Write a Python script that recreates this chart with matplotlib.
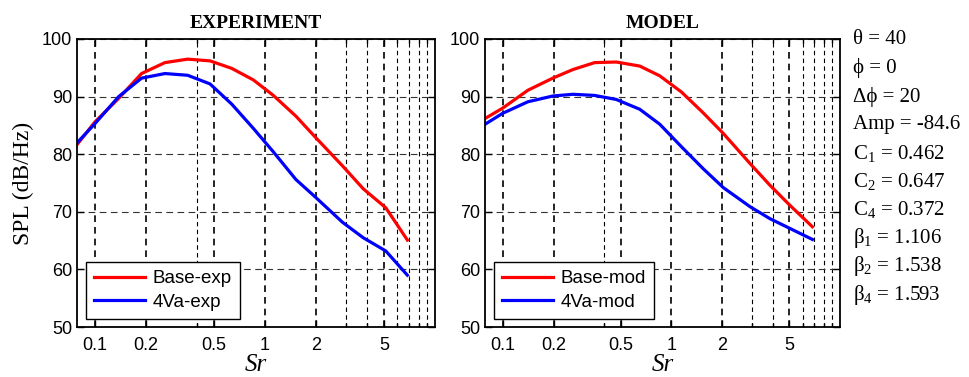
import matplotlib
matplotlib.use("Agg")
import matplotlib.pyplot as plt
from matplotlib.ticker import FixedLocator, FixedFormatter, NullFormatter

plt.rcParams['font.family'] = ['Liberation Serif', 'DejaVu Serif']
plt.rcParams['mathtext.fontset'] = 'custom'
plt.rcParams['mathtext.rm'] = 'Liberation Serif'
plt.rcParams['mathtext.it'] = 'Liberation Serif:italic'

# Strouhal numbers (1/3-octave bands) and spectra
sr_exp = [0.0787, 0.1, 0.138, 0.188, 0.258, 0.351, 0.475, 0.637, 0.853, 1.12,
          1.52, 1.97, 2.85, 3.78, 5.13, 6.87]
base_exp = [81.7, 85.6, 89.7, 94.0, 95.9, 96.5, 96.2, 94.9, 92.9, 90.2,
            86.6, 83.0, 78.0, 74.0, 70.7, 65.1]
va4_exp = [82.0, 85.3, 90.0, 93.2, 94.0, 93.7, 92.2, 88.7, 84.5, 80.4,
           75.6, 72.6, 68.2, 65.5, 63.2, 59.0]

sr_mod = [0.0786, 0.1, 0.141, 0.198, 0.261, 0.351, 0.471, 0.649, 0.853, 1.146,
          1.54, 2.03, 2.92, 3.84, 5.05, 6.85]
base_mod = [86.2, 88.0, 91.1, 93.2, 94.7, 95.9, 96.0, 95.3, 93.6, 90.8,
            87.2, 83.6, 78.4, 74.6, 71.1, 67.4]
va4_mod = [85.2, 87.1, 89.1, 90.1, 90.4, 90.2, 89.5, 87.8, 85.2, 81.3,
           77.5, 74.2, 70.9, 68.8, 67.1, 65.2]

major_sr = [0.1, 0.2, 0.5, 1, 2, 5]
major_lbl = ['0.1', '0.2', '0.5', '1', '2', '5']
minor_sr = [0.4, 3, 4, 6, 7, 8, 9]
spl_ticks = [50, 60, 70, 80, 90, 100]

params = ['θ = 40', 'ϕ = 0', 'Δϕ = 20', 'Amp = -84.6',
          r'C$_1$ = 0.462', r'C$_2$ = 0.647', r'C$_4$ = 0.372',
          r'β$_1$ = 1.106', r'β$_2$ = 1.538', r'β$_4$ = 1.593']

fig = plt.figure(figsize=(9.69, 3.77), dpi=100)
ax1 = fig.add_axes([0.0795, 0.1326, 0.3695, 0.764])
ax2 = fig.add_axes([0.5005, 0.1326, 0.3665, 0.764])

panels = [
    (ax1, 'EXPERIMENT', sr_exp, base_exp, va4_exp, 'Base-exp', '4Va-exp'),
    (ax2, 'MODEL', sr_mod, base_mod, va4_mod, 'Base-mod', '4Va-mod'),
]

for ax, title, sr, base, va4, lb, lv in panels:
    ax.set_xscale('log')
    ax.plot(sr, base, color='#ff0000', lw=2.3, label=lb)
    ax.plot(sr, va4, color='#0000ff', lw=2.3, label=lv)
    ax.set_xlim(0.0785, 10)
    ax.set_ylim(50, 100)
    ax.xaxis.set_major_locator(FixedLocator(major_sr))
    ax.xaxis.set_major_formatter(FixedFormatter(major_lbl))
    ax.xaxis.set_minor_locator(FixedLocator(minor_sr))
    ax.xaxis.set_minor_formatter(NullFormatter())
    ax.yaxis.set_major_locator(FixedLocator(spl_ticks))
    ax.grid(True, which='major', axis='x', color='black', ls=(0, (4, 3)), lw=1.2)
    ax.grid(True, which='minor', axis='x', color='black', ls=(0, (4, 3)), lw=0.8)
    ax.grid(True, which='major', axis='y', color='#333333', ls=(0, (6, 4)), lw=0.8)
    ax.tick_params(which='both', direction='in', top=True, right=True,
                   labelsize=13, width=1, length=5)
    ax.tick_params(which='minor', length=3)
    ax.tick_params(axis='x', pad=7)
    for lab in ax.get_xticklabels() + ax.get_yticklabels():
        lab.set_family('Liberation Sans')
    for s in ax.spines.values():
        s.set_linewidth(1.3)
    ax.set_title(title, fontsize=14, fontweight='bold', pad=8)
    ax.set_xlabel('Sr', fontsize=18, style='italic', labelpad=0)
    leg = ax.legend(loc='lower left', handlelength=2.7,
                    fancybox=False, framealpha=1, edgecolor='black',
                    borderpad=0.45, labelspacing=0.33, handletextpad=0.4,
                    borderaxespad=0,
                    prop={'family': 'Liberation Sans', 'size': 13.5},
                    bbox_to_anchor=(0.025, 0.028))
    leg.get_frame().set_linewidth(1.0)

ax1.set_ylabel('SPL (dB/Hz)', fontsize=17, labelpad=6)

y0 = 40
for i, txt in enumerate(params):
    ypx = y0 + i * 28.3
    fig.text(853 / 969, 1 - ypx / 377, txt, fontsize=15, ha='left', va='center')

fig.savefig('out.png', dpi=100)
